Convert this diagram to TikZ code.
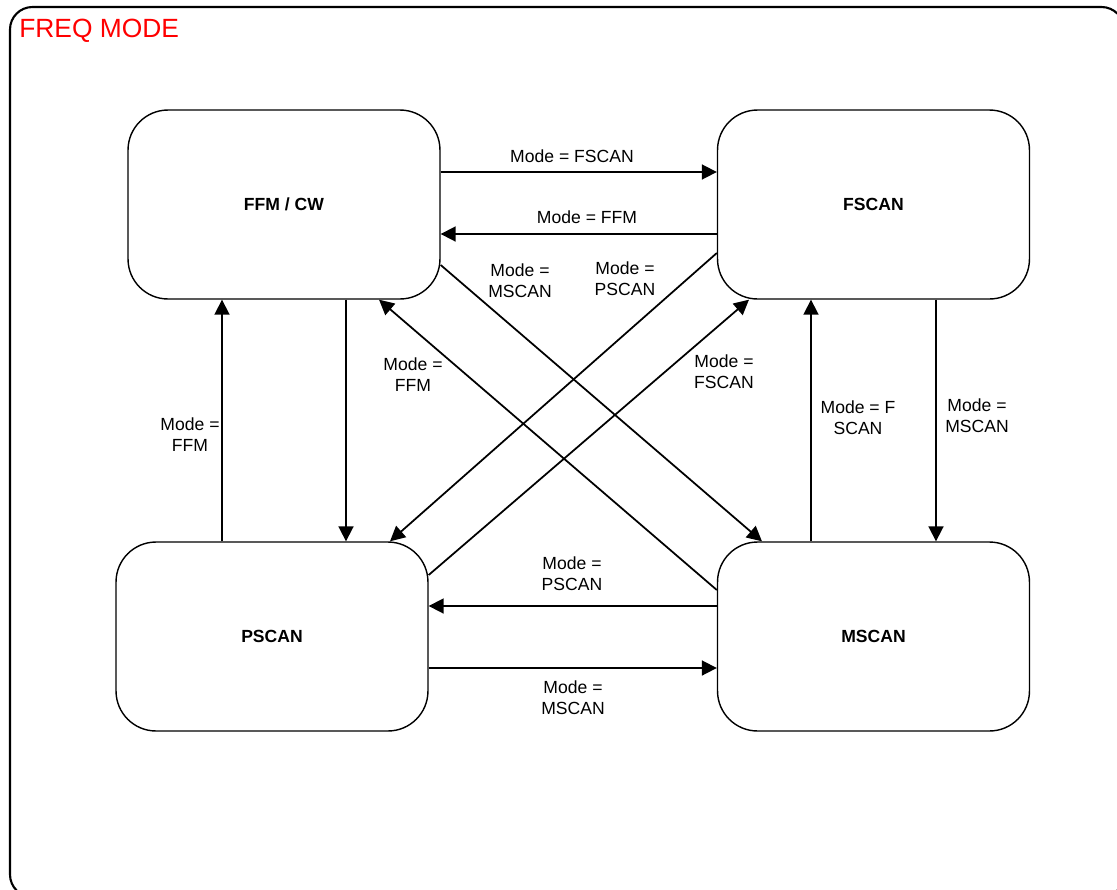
\documentclass[tikz,border=0pt]{standalone}
\usepackage{fontspec}
\setmainfont{Liberation Sans}
\usepackage{tikz}
\usetikzlibrary{arrows.meta, positioning, calc}
\usepackage{xcolor}
\definecolor{modered}{RGB}{255,0,0}

\tikzset{
  state/.style={draw, line width=0.8pt, rounded corners=0.8cm, minimum width=6.24cm, minimum height=3.78cm, font=\fontsize{10}{12}\selectfont\bfseries},
  trans/.style={-{Triangle[length=8.5pt, width=8.5pt]}, line width=1pt},
  lbl/.style={align=center, font=\fontsize{10}{12}\selectfont, inner sep=0pt}
}

\begin{document}
\begin{tikzpicture}[x=0.02cm, y=-0.02cm]
  \clip (0,0) rectangle (1117,890);
  \draw[line width=1.2pt, rounded corners=0.45cm] (10,7) rectangle (1124,897);
  \node[anchor=west, inner sep=0pt, text=modered, font=\fontsize{15}{18}\selectfont] (title) at (19,31) {FREQ MODE};

  \node[state] (ffm) at (284, 204.5) {FFM / CW};
  \node[state] (fscan) at (873.5, 204.5) {FSCAN};
  \node[state] (pscan) at (272, 636.5) {PSCAN};
  \node[state] (mscan) at (873.5, 636.5) {MSCAN};

  % top pair
  \draw[trans] (ffm.east |- 0,172) -- (fscan.west |- 0,172);
  \draw[trans] (fscan.west |- 0,234) -- (ffm.east |- 0,234);
  % bottom pair
  \draw[trans] (mscan.west |- 0,606) -- (pscan.east |- 0,606);
  \draw[trans] (pscan.east |- 0,668) -- (mscan.west |- 0,668);
  % left pair
  \draw[trans] (pscan.north -| 222,0) -- (ffm.south -| 222,0);
  \draw[trans] (ffm.south -| 346,0) -- (pscan.north -| 346,0);
  % right pair
  \draw[trans] (mscan.north -| 811,0) -- (fscan.south -| 811,0);
  \draw[trans] (fscan.south -| 936,0) -- (mscan.north -| 936,0);
  % diagonals
  \draw[trans] (ffm.east |- 0,265) -- (mscan.north -| 762,0);
  \draw[trans] (fscan.west |- 0,253) -- (pscan.north -| 390,0);
  \draw[trans] (mscan.west |- 0,590) -- (ffm.south -| 379,0);
  \draw[trans] (pscan.east |- 0,575) -- (fscan.south -| 749,0);

  \node[lbl] (l1) at (572,156) {Mode = FSCAN};
  \node[lbl] (l2) at (587,217) {Mode = FFM};
  \node[lbl] (l3) at (520,281) {Mode =\\MSCAN};
  \node[lbl] (l4) at (625,279) {Mode =\\PSCAN};
  \node[lbl] (l5) at (413,375) {Mode =\\FFM};
  \node[lbl] (l6) at (724,372) {Mode =\\FSCAN};
  \node[lbl] (l7) at (190,435) {Mode =\\FFM};
  \node[lbl] (l8) at (858,418) {Mode = F\\SCAN};
  \node[lbl] (l9) at (977,416) {Mode =\\MSCAN};
  \node[lbl] (l10) at (572,574) {Mode =\\PSCAN};
  \node[lbl] (l11) at (573,698) {Mode =\\MSCAN};
\end{tikzpicture}
\end{document}
